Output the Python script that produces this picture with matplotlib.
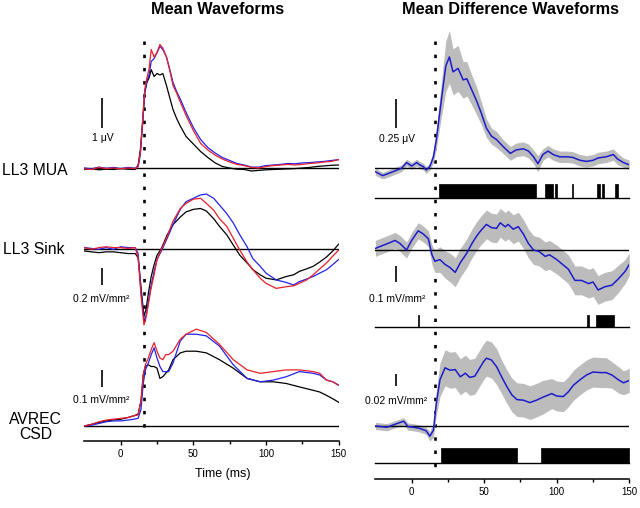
import matplotlib.pyplot as plt
from matplotlib.ticker import FixedLocator

plt.rcParams['font.family'] = ['Liberation Sans', 'DejaVu Sans']

# ---- data ----
# left column: mean waveforms, three conditions per row
t_mua = [-25, -20, -15, -10, -5, 0, 5, 10, 12, 13.5, 15, 16.5, 18, 19.5, 21, 23, 25, 27, 29, 31.5,
         34, 36, 38.5, 41, 45, 50, 55, 60, 65, 70, 75, 80, 85, 90, 95, 100, 105, 110, 115, 120,
         125, 130, 135, 140, 145, 150]
mua_black = [-0.05, -0.03, -0.06, -0.04, -0.05, -0.02, -0.04, -0.05, 0.1, 0.6, 1.5, 2.5, 2.85, 3.0, 3.28, 3.05,
             3.15, 3.1, 3.15, 2.75, 2.3, 1.95, 1.65, 1.4, 1.05, 0.8, 0.55, 0.35, 0.17, 0.05, 0.0, -0.04,
             -0.05, -0.1, -0.08, -0.06, -0.05, -0.04, -0.03, -0.02, 0.0, 0.02, 0.05, 0.07, 0.09, 0.1]
mua_red = [-0.03, -0.05, 0.02, -0.02, 0.0, -0.03, 0.0, -0.02, 0.05, 0.5, 1.5, 2.6, 3.0, 3.3, 3.95, 3.7,
           3.85, 4.12, 4.0, 3.7, 3.2, 2.75, 2.5, 2.2, 1.75, 1.25, 0.82, 0.6, 0.43, 0.3, 0.2, 0.12,
           0.08, 0.02, 0.0, 0.05, 0.08, 0.1, 0.12, 0.1, 0.12, 0.15, 0.17, 0.2, 0.22, 0.28]
mua_blue = [0.0, -0.03, 0.03, -0.01, 0.02, -0.02, 0.02, -0.01, 0.05, 0.45, 1.4, 2.5, 2.9, 3.1, 3.55, 3.65,
            3.85, 4.05, 3.95, 3.7, 3.25, 2.85, 2.55, 2.3, 1.85, 1.35, 0.95, 0.68, 0.5, 0.35, 0.25, 0.15,
            0.1, 0.03, 0.03, 0.08, 0.1, 0.12, 0.15, 0.14, 0.17, 0.18, 0.2, 0.22, 0.25, 0.28]

t_sink = [-25, -20, -15, -10, -5, 0, 5, 10, 12, 14, 16, 17.5, 19, 21, 23, 25, 28, 32, 36, 41, 45, 50,
          55, 59, 64, 68, 73, 77.5, 82, 87, 91, 96, 100, 107, 114, 119, 123, 128, 132.5, 137, 141.7,
          146, 150]
sink_black = [-0.02, -0.03, -0.04, -0.03, -0.03, -0.04, -0.05, -0.05, -0.1, -0.45, -0.79, -0.7, -0.52,
              -0.32, -0.18, -0.07, 0.01, 0.17, 0.29, 0.38, 0.44, 0.47, 0.48, 0.45, 0.36, 0.27, 0.17,
              0.05, -0.07, -0.16, -0.24, -0.3, -0.34, -0.36, -0.32, -0.3, -0.26, -0.23, -0.2, -0.15,
              -0.09, -0.02, 0.06]
sink_red = [0.02, 0.0, 0.02, 0.03, 0.02, 0.02, 0.01, 0.02, -0.1, -0.55, -0.89, -0.8, -0.65, -0.45,
            -0.3, -0.12, 0.0, 0.15, 0.33, 0.48, 0.54, 0.59, 0.6, 0.54, 0.46, 0.36, 0.27, 0.13, -0.01,
            -0.15, -0.24, -0.34, -0.4, -0.46, -0.44, -0.43, -0.4, -0.36, -0.3, -0.23, -0.16, -0.08, -0.01]
sink_blue = [0.02, 0.01, 0.0, 0.02, 0.0, 0.03, 0.02, 0.02, -0.05, -0.5, -0.84, -0.78, -0.62, -0.42,
             -0.26, -0.12, -0.02, 0.13, 0.29, 0.47, 0.56, 0.6, 0.64, 0.65, 0.6, 0.52, 0.42, 0.31, 0.17,
             0.03, -0.11, -0.2, -0.28, -0.36, -0.39, -0.42, -0.38, -0.35, -0.32, -0.28, -0.24, -0.18, -0.12]

t_avrec = [-25, -20, -15, -10, -5, 0, 5, 9, 12, 14, 15.5, 17, 19, 21, 23, 25, 27, 29, 31, 33, 36, 41,
           45, 52, 59, 68, 77.5, 87, 96, 105, 114, 123, 132.5, 137, 141.7, 146, 150]
avrec_black = [0.0, 0.01, 0.02, 0.03, 0.035, 0.04, 0.05, 0.06, 0.07, 0.15, 0.3, 0.35, 0.36, 0.35, 0.35,
               0.34, 0.28, 0.29, 0.31, 0.33, 0.39, 0.43, 0.44, 0.44, 0.43, 0.39, 0.34, 0.28, 0.26, 0.26,
               0.25, 0.23, 0.21, 0.2, 0.18, 0.16, 0.14]
avrec_red = [0.0, 0.01, 0.025, 0.035, 0.04, 0.045, 0.05, 0.06, 0.065, 0.15, 0.3, 0.36, 0.4, 0.45, 0.49,
             0.44, 0.4, 0.39, 0.42, 0.42, 0.44, 0.51, 0.54, 0.57, 0.55, 0.48, 0.39, 0.33, 0.31, 0.32,
             0.33, 0.33, 0.32, 0.31, 0.27, 0.26, 0.24]
avrec_blue = [0.0, 0.005, 0.015, 0.025, 0.03, 0.03, 0.035, 0.04, 0.045, 0.1, 0.25, 0.33, 0.37, 0.42, 0.46,
              0.4, 0.35, 0.32, 0.32, 0.32, 0.37, 0.5, 0.54, 0.54, 0.53, 0.47, 0.36, 0.28, 0.26, 0.27,
              0.29, 0.32, 0.31, 0.3, 0.27, 0.26, 0.24]

# right column: mean difference waveforms with error band
t_dmua = [-25, -20, -15, -10, -7, -3.5, 0, 3.5, 5.5, 8, 10, 12.5, 15, 17, 20.5, 23.5, 26, 28.5, 32, 35.5,
          38, 41.5, 45, 48, 51.5, 55, 58.5, 63, 68, 72, 77, 80.5, 84, 87, 90.5, 94, 97.5, 102, 107, 111,
          116, 120.5, 125, 128.5, 134, 139, 142, 146, 150]
dmua = [-0.03, -0.064, -0.04, -0.015, 0.0, 0.05, 0.02, 0.05, 0.03, 0.015, -0.015, 0.015, 0.1, 0.25, 0.6,
        0.89, 0.97, 0.84, 0.87, 0.77, 0.78, 0.68, 0.58, 0.48, 0.35, 0.28, 0.25, 0.19, 0.13, 0.16, 0.17,
        0.15, 0.1, 0.04, 0.12, 0.15, 0.12, 0.1, 0.1, 0.095, 0.07, 0.06, 0.07, 0.09, 0.1, 0.12, 0.08,
        0.05, 0.03]
dmua_sem = [0.03, 0.03, 0.03, 0.03, 0.03, 0.03, 0.03, 0.03, 0.03, 0.03, 0.03, 0.03, 0.05, 0.08, 0.15,
            0.22, 0.23, 0.2, 0.2, 0.16, 0.15, 0.13, 0.12, 0.1, 0.08, 0.07, 0.07, 0.06, 0.06, 0.06, 0.06,
            0.06, 0.06, 0.07, 0.05, 0.05, 0.05, 0.05, 0.05, 0.05, 0.05, 0.05, 0.05, 0.05, 0.05, 0.05,
            0.05, 0.04, 0.04]

t_dsink = [-25, -19.5, -15, -11.5, -8, -3.5, 0, 4.5, 8, 11.5, 14, 16, 19.5, 23, 26.5, 30, 33.5, 38,
           41.5, 45, 48, 51.5, 55, 58.5, 61, 64.5, 66.5, 70, 73.5, 77, 80.5, 84, 88, 92, 95, 100, 104,
           108, 112.5, 117, 122, 125, 128.5, 133, 138, 142.5, 147, 150]
dsink = [0.01, 0.03, 0.046, 0.06, 0.04, 0.0, 0.06, 0.12, 0.1, 0.07, -0.03, -0.07, -0.06, -0.09, -0.11,
         -0.14, -0.08, -0.02, 0.04, 0.09, 0.125, 0.16, 0.14, 0.135, 0.17, 0.145, 0.16, 0.13, 0.146, 0.1,
         0.04, 0.0, -0.01, -0.04, -0.03, -0.06, -0.09, -0.12, -0.19, -0.19, -0.21, -0.2, -0.25, -0.23,
         -0.22, -0.18, -0.135, -0.09]
dsink_sem = [0.05, 0.05, 0.05, 0.05, 0.05, 0.05, 0.05, 0.05, 0.05, 0.05, 0.06, 0.07, 0.08, 0.085,
             0.09, 0.09, 0.09, 0.09, 0.09, 0.09, 0.09, 0.09, 0.09, 0.09, 0.09, 0.09, 0.09, 0.09, 0.09,
             0.09, 0.09, 0.09, 0.09, 0.09, 0.09, 0.09, 0.09, 0.09, 0.09, 0.09, 0.09, 0.09, 0.09, 0.09,
             0.09, 0.085, 0.075, 0.07]

t_davrec = [-25, -17, -12.5, -5.5, -2.5, 1, 5.5, 10, 12.5, 15, 17, 19.5, 23, 26.5, 30, 33.5, 37, 40,
            43.5, 46, 49.5, 51.5, 55, 58.5, 62, 65.5, 69, 72.5, 77, 81.5, 86, 90.5, 96.5, 100, 104.5,
            108, 111.5, 116, 120.5, 125, 130, 134, 138, 142.5, 146, 150]
davrec = [0.0, -0.002, 0.002, 0.008, -0.001, -0.002, -0.004, -0.008, -0.017, -0.007, 0.038, 0.077,
          0.097, 0.093, 0.094, 0.082, 0.088, 0.081, 0.083, 0.093, 0.107, 0.113, 0.11, 0.099, 0.082,
          0.066, 0.052, 0.044, 0.043, 0.039, 0.043, 0.048, 0.054, 0.05, 0.049, 0.057, 0.068, 0.077,
          0.085, 0.09, 0.089, 0.089, 0.085, 0.077, 0.072, 0.076]
davrec_sem = [0.006, 0.006, 0.006, 0.006, 0.006, 0.006, 0.006, 0.006, 0.008, 0.012, 0.02, 0.028, 0.03,
              0.03, 0.03, 0.03, 0.03, 0.03, 0.03, 0.03, 0.03, 0.03, 0.03, 0.03, 0.028, 0.028, 0.028,
              0.028, 0.028, 0.028, 0.028, 0.028, 0.025, 0.025, 0.025, 0.025, 0.025, 0.025, 0.025,
              0.025, 0.025, 0.025, 0.022, 0.022, 0.02, 0.02]

# significant time windows (ms)
sig_mua = [(18.8, 85.5), (91.9, 97.2), (98.6, 99.9), (110.3, 111.2), (127.9, 129.8), (130.9, 132.5),
           (139.9, 142.2)]
sig_sink = [(4.5, 5.3), (121.0, 122.0), (126.8, 139.4)]
sig_avrec = [(20.2, 72.6), (89.1, 150.0)]

stim_onset = 16
xticks = [0, 50, 100, 150]
row_names = ['LL3 MUA', 'LL3 Sink', 'AVREC\nCSD']

W, H = 640, 508
fig = plt.figure(figsize=(W / 100, H / 100), dpi=100)
XL = (-25, 150)
RED, BLUE, DBLUE, GRAY = '#e8202a', '#2222ee', '#1c1ccc', '#bcbcbc'


def px_axes(x0, x1, top, bottom):
    return fig.add_axes([x0 / W, 1 - bottom / H, (x1 - x0) / W, (bottom - top) / H])


def row_axes(x0, x1, top, bottom, base, ppu):
    ax = px_axes(x0, x1, top, bottom)
    ax.set_xlim(XL)
    ax.set_ylim((base - bottom) / ppu, (base - top) / ppu)
    ax.axis('off')
    ax.axhline(0, color='black', lw=1.0)
    return ax


def column_axes(x0, x1, top, bottom, dot_end):
    ax = px_axes(x0, x1, top, bottom)
    ax.set_xlim(XL)
    ax.set_ylim(bottom, top)
    ax.patch.set_visible(False)
    for s in ['top', 'left', 'right']:
        ax.spines[s].set_visible(False)
    ax.spines['bottom'].set_linewidth(1.1)
    ax.yaxis.set_visible(False)
    ax.xaxis.set_major_locator(FixedLocator(xticks))
    ax.xaxis.set_minor_locator(FixedLocator([25, 75, 125]))
    ax.tick_params(axis='x', which='major', direction='out', length=3.2, width=1.0, labelsize=7, pad=2.5)
    ax.tick_params(axis='x', which='minor', direction='out', length=2.0, width=1.0)
    ax.plot([stim_onset, stim_onset], [41, dot_end], color='black', lw=1.9,
            linestyle=(0, (1.3, 3.7)))
    return ax


def scale_bar(ax, x, y0, y1):
    ax.plot([x, x], [y0, y1], color='black', lw=1.2, solid_capstyle='butt')


def sig_axes(x0, x1, top, bottom, spans):
    ax = px_axes(x0, x1, top, bottom)
    ax.set_xlim(XL)
    ax.set_ylim(0, 1)
    ax.axis('off')
    ax.axhline(0, color='black', lw=1.0, clip_on=False)
    ax.broken_barh([(a, b - a) for a, b in spans], (0, 1), facecolor='black', edgecolor='black',
                   lw=0.5, clip_on=False)
    return ax


LX0, LX1 = 84.4, 338.6
RX0, RX1 = 375.4, 629.3

column_axes(LX0, LX1, 35, 441, 433)
column_axes(RX0, RX1, 35, 479, 473)

# left rows
ax = row_axes(LX0, LX1, 30, 182, 168, 30)
for y, c in [(mua_black, 'black'), (mua_blue, BLUE), (mua_red, RED)]:
    ax.plot(t_mua, y, color=c, lw=0.9)
scale_bar(ax, -13, 1.33, 2.33)

ax = row_axes(LX0, LX1, 180, 335, 249.3, 85)
for y, c in [(sink_black, 'black'), (sink_blue, BLUE), (sink_red, RED)]:
    ax.plot(t_sink, y, color=c, lw=0.9)
scale_bar(ax, -13, -0.42, -0.22)

ax = row_axes(LX0, LX1, 320, 432, 426, 170)
for y, c in [(avrec_black, 'black'), (avrec_blue, BLUE), (avrec_red, RED)]:
    ax.plot(t_avrec, y, color=c, lw=0.9)
scale_bar(ax, -13, 0.231, 0.331)

# right rows
ax = row_axes(RX0, RX1, 25, 178, 168.3, 114.8)
ax.fill_between(t_dmua, [v - s for v, s in zip(dmua, dmua_sem)], [v + s for v, s in zip(dmua, dmua_sem)],
                color=GRAY, lw=0)
ax.plot(t_dmua, dmua, color=DBLUE, lw=1.1)
scale_bar(ax, -10.5, 0.354, 0.604)
sig_axes(RX0, RX1, 184, 198, sig_mua)

ax = row_axes(RX0, RX1, 200, 312, 250, 160)
ax.fill_between(t_dsink, [v - s for v, s in zip(dsink, dsink_sem)], [v + s for v, s in zip(dsink, dsink_sem)],
                color=GRAY, lw=0)
ax.plot(t_dsink, dsink, color=DBLUE, lw=1.1)
scale_bar(ax, -10.5, -0.198, -0.098)
sig_axes(RX0, RX1, 315, 327.3, sig_sink)

ax = row_axes(RX0, RX1, 330, 445, 426, 600)
ax.fill_between(t_davrec, [v - s for v, s in zip(davrec, davrec_sem)],
                [v + s for v, s in zip(davrec, davrec_sem)], color=GRAY, lw=0)
ax.plot(t_davrec, davrec, color=DBLUE, lw=1.1)
scale_bar(ax, -10.5, 0.0667, 0.0867)
sig_axes(RX0, RX1, 448.3, 463.3, sig_avrec)


def ftext(x, y, s, **kw):
    fig.text(x / W, 1 - y / H, s, **kw)


ftext(217.5, 9, 'Mean Waveforms', ha='center', va='center', fontsize=11.7, fontweight='bold')
ftext(510.5, 9, 'Mean Difference Waveforms', ha='center', va='center', fontsize=11.7, fontweight='bold')
ftext(2, 170, row_names[0], ha='left', va='center', fontsize=11.3)
ftext(3, 249, row_names[1], ha='left', va='center', fontsize=11.3)
ftext(35.5, 427, row_names[2], ha='center', va='center', fontsize=11.3, linespacing=1.05)
ftext(223, 474, 'Time (ms)', ha='center', va='center', fontsize=9)

ftext(103, 138, '1 \u03bcV', ha='center', va='center', fontsize=7.5)
ftext(101.5, 299, '0.2 mV/mm\u00b2', ha='center', va='center', fontsize=7.5)
ftext(101.5, 400, '0.1 mV/mm\u00b2', ha='center', va='center', fontsize=7.5)
ftext(397, 139, '0.25 \u03bcV', ha='center', va='center', fontsize=7.5)
ftext(397, 299, '0.1 mV/mm\u00b2', ha='center', va='center', fontsize=7.5)
ftext(396, 401, '0.02 mV/mm\u00b2', ha='center', va='center', fontsize=7.5)

fig.savefig('out.png', dpi=100)
